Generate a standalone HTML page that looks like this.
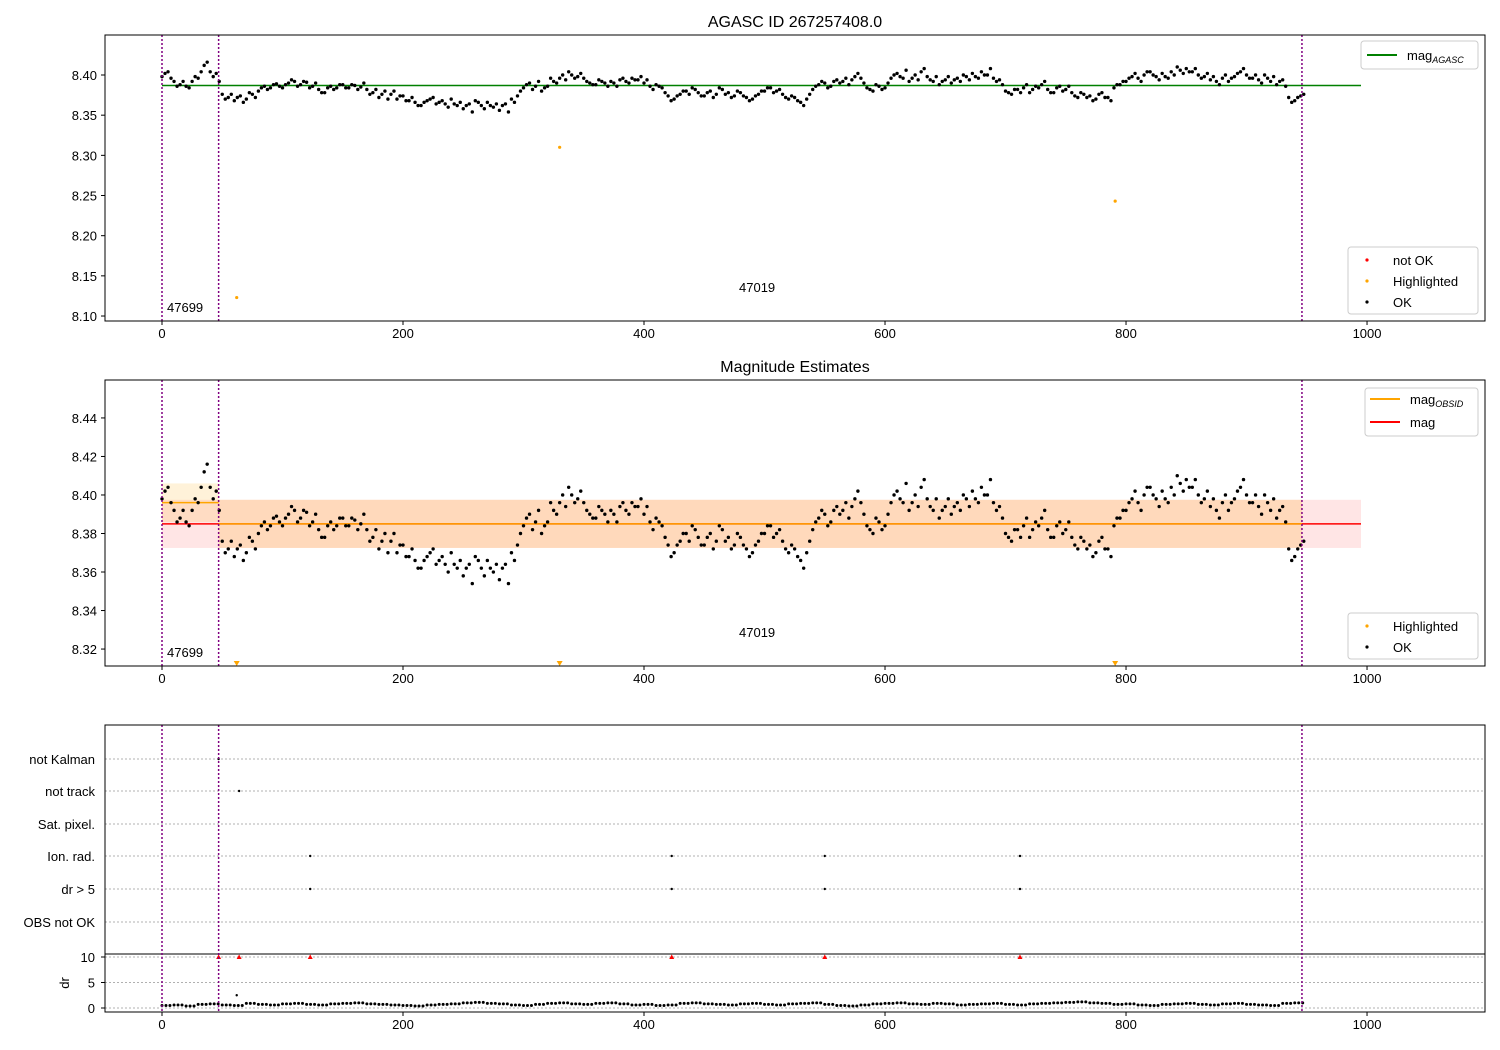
<!DOCTYPE html>
<html><head><meta charset="utf-8">
<style>
body{margin:0;background:#fff;}
svg{display:block;font-family:"Liberation Sans","DejaVu Sans",sans-serif;}
</style></head>
<body>
<svg id="chart" width="1500" height="1050" viewBox="0 0 1500 1050"></svg>
<script>
const magX0 = 0, magStep = 5;
const magValues = [8.398,8.404,8.392,8.388,8.386,8.392,8.396,8.412,8.404,8.402,
8.376,8.372,8.368,8.374,8.370,8.376,8.380,8.386,8.384,8.389,
8.384,8.390,8.392,8.388,8.391,8.386,8.382,8.378,8.386,8.384,
8.388,8.384,8.387,8.385,8.382,8.378,8.372,8.380,8.376,8.370,
8.374,8.368,8.366,8.362,8.368,8.372,8.366,8.364,8.370,8.362,
8.358,8.364,8.368,8.362,8.366,8.360,8.356,8.364,8.370,8.374,
8.384,8.390,8.386,8.380,8.386,8.392,8.396,8.394,8.400,8.398,
8.396,8.390,8.388,8.392,8.386,8.390,8.394,8.392,8.396,8.394,
8.390,8.386,8.388,8.384,8.374,8.370,8.376,8.380,8.384,8.378,
8.374,8.380,8.376,8.382,8.378,8.374,8.378,8.372,8.370,8.376,
8.380,8.384,8.380,8.376,8.370,8.372,8.366,8.370,8.382,8.388,
8.390,8.386,8.394,8.392,8.388,8.398,8.396,8.384,8.380,8.386,
8.384,8.396,8.402,8.396,8.392,8.400,8.404,8.398,8.392,8.388,
8.394,8.390,8.396,8.400,8.394,8.398,8.404,8.400,8.396,8.394,
8.380,8.376,8.382,8.384,8.378,8.386,8.388,8.382,8.378,8.386,
8.382,8.378,8.372,8.376,8.374,8.370,8.378,8.372,8.384,8.388,
8.392,8.398,8.396,8.400,8.404,8.398,8.402,8.396,8.400,8.406,
8.408,8.404,8.400,8.398,8.394,8.392,8.396,8.392,8.398,8.404,
8.400,8.396,8.394,8.400,8.392,8.388,8.394,8.372,8.368,8.374];
const magX0B = 2.5;
const magValuesB = [8.402,8.396,8.386,8.392,8.384,8.398,8.404,8.416,8.398,8.392,
8.370,8.376,8.372,8.366,8.378,8.372,8.384,8.382,8.388,8.386,
8.388,8.394,8.386,8.392,8.384,8.390,8.378,8.384,8.382,8.388,
8.384,8.388,8.382,8.390,8.376,8.382,8.376,8.370,8.380,8.374,
8.368,8.372,8.362,8.366,8.370,8.364,8.368,8.360,8.364,8.366,
8.362,8.354,8.366,8.358,8.362,8.364,8.362,8.354,8.366,8.380,
8.388,8.382,8.392,8.384,8.396,8.390,8.400,8.404,8.396,8.402,
8.392,8.388,8.394,8.390,8.392,8.386,8.396,8.390,8.394,8.398,
8.394,8.382,8.386,8.378,8.368,8.374,8.380,8.376,8.382,8.374,
8.378,8.372,8.384,8.376,8.372,8.380,8.374,8.368,8.374,8.380,
8.384,8.378,8.382,8.372,8.374,8.368,8.362,8.376,8.386,8.392,
8.384,8.392,8.390,8.396,8.394,8.402,8.390,8.382,8.388,8.382,
8.390,8.400,8.398,8.406,8.396,8.394,8.408,8.394,8.398,8.392,
8.398,8.394,8.392,8.398,8.402,8.396,8.400,8.408,8.392,8.388,
8.378,8.382,8.378,8.388,8.382,8.384,8.392,8.378,8.384,8.380,
8.386,8.374,8.378,8.372,8.368,8.376,8.372,8.368,8.388,8.392,
8.396,8.402,8.392,8.404,8.400,8.394,8.398,8.404,8.410,8.402,
8.404,8.408,8.396,8.402,8.398,8.388,8.400,8.396,8.402,8.408,
8.396,8.400,8.390,8.396,8.398,8.392,8.386,8.366,8.372,8.376];
const highlightX = [62, 330, 791];
const highlightMag = [8.123, 8.310, 8.243];
const magAgasc = 8.387;
const magMean = 8.385, magStd = 0.0125;
const obsid1Mean = 8.396, obsid1Std = 0.010;
const obsBounds = [0, 47, 946];
const obsLabels = ["47699", "47019"];
const flagCats = ["not Kalman","not track","Sat. pixel.","Ion. rad.","dr > 5","OBS not OK"];
const flagNotKalmanX = [47];
const flagNotTrackX = [64];
const flagIonX = [123, 423, 550, 712];
const flagDrX = [123, 423, 550, 712];
const drX0 = 0, drStep = 10;
const drValues = [0.5,0.6,0.4,0.7,0.8,0.6,0.5,0.9,0.7,0.6,0.8,0.9,0.7,0.6,0.8,0.9,1.0,0.8,0.7,0.6,
0.5,0.4,0.6,0.7,0.8,1.0,1.1,0.9,0.8,0.6,0.5,0.7,0.9,1.0,0.8,0.7,0.9,1.0,0.8,0.6,
0.7,0.5,0.6,0.9,1.0,0.8,0.7,0.6,0.8,0.9,0.7,0.6,0.8,0.9,1.0,0.7,0.5,0.4,0.6,0.8,
0.9,1.0,0.8,0.7,0.9,0.8,0.6,0.7,0.8,0.9,0.7,0.6,0.8,0.9,1.0,1.1,1.2,1.0,0.9,0.7,
0.8,0.6,0.5,0.7,0.8,0.9,0.7,0.6,0.8,0.9,0.7,0.6,0.5,0.9,1.0];
const drHiX = [47, 64, 123, 423, 550, 712];
const xTicks = [0,200,400,600,800,1000];
const y1Ticks = [8.10,8.15,8.20,8.25,8.30,8.35,8.40];
const y2Ticks = [8.32,8.34,8.36,8.38,8.40,8.42,8.44];
const drTicks = [0,5,10];

const NS="http://www.w3.org/2000/svg";
const svg=document.getElementById('chart');
function mk(tag,attrs,parent,text){const e=document.createElementNS(NS,tag);for(const k in attrs)e.setAttribute(k,attrs[k]);if(text!==undefined)e.textContent=text;(parent||svg).appendChild(e);return e;}
const L=105,R=1485;
const xmin=-47.3,xmax=1097.9;
const sx=v=>L+(v-xmin)/(xmax-xmin)*(R-L);
function yScale(top,bot,vmin,vmax){return v=>bot-(v-vmin)/(vmax-vmin)*(bot-top);}
const P1={top:35,bot:321,y:yScale(35,321,8.0938,8.4498)};
const P2={top:380,bot:666,y:yScale(380,666,8.3112,8.4597)};
const P3={top:725,bot:1012};
const catY=[759,791,824,856,889,922];
const dry=v=>1008-v*5.1;

function xAxis(bot,name){
  const g=mk('g',{});
  xTicks.forEach(t=>{const x=sx(t);mk('line',{x1:x,x2:x,y1:bot,y2:bot+4,stroke:'#000'},g);mk('text',{x:x,y:bot+17,'font-size':13,'text-anchor':'middle'},g,String(t));});
}
function frame(top,bot,name){const r=mk('rect',{x:L,y:top,width:R-L,height:bot-top,fill:'none',stroke:'#000','stroke-width':1});}
function vlines(top,bot){obsBounds.forEach(b=>{const l=mk('line',{x1:sx(b),x2:sx(b),y1:top,y2:bot,stroke:'#800080','stroke-width':1.5,'stroke-dasharray':'2,2'});});}
function clip(id,top,bot){const c=mk('clipPath',{id:id});mk('rect',{x:L,y:top,width:R-L,height:bot-top},c);}
clip('c1',P1.top,P1.bot);clip('c2',P2.top,P2.bot);clip('c3',P3.top,P3.bot);
function plotMag(g,ys){
  [[magX0,magValues],[magX0B,magValuesB]].forEach(s=>{
    s[1].forEach((v,i)=>{const c=mk('circle',{cx:sx(s[0]+i*magStep),cy:ys(v),r:1.7,fill:'#000'},g);
      
      });
  });
}

// Panel 1
mk('text',{x:795,y:27,'font-size':16,'text-anchor':'middle'},svg,'AGASC ID 267257408.0');
const g1=mk('g',{'clip-path':'url(#c1)'});
mk('line',{x1:sx(0),x2:sx(995),y1:P1.y(magAgasc),y2:P1.y(magAgasc),stroke:'#008000','stroke-width':1.5},g1);
plotMag(g1,P1.y);
highlightX.forEach((x,i)=>{const c=mk('circle',{cx:sx(x),cy:P1.y(highlightMag[i]),r:1.6,fill:'orange'},g1);});
vlines(P1.top,P1.bot);
mk('text',{x:167,y:312,'font-size':13},svg,obsLabels[0]);
mk('text',{x:739,y:292,'font-size':13},svg,obsLabels[1]);
y1Ticks.forEach(t=>{const y=P1.y(t);mk('line',{x1:L-4,x2:L,y1:y,y2:y,stroke:'#000'});mk('text',{x:L-8,y:y+5,'font-size':13,'text-anchor':'end'},svg,t.toFixed(2));});
frame(P1.top,P1.bot,'panel-1-frame');xAxis(P1.bot,'x-axis-1');
let lg=mk('g',{});
mk('rect',{x:1361,y:41,width:117,height:28,fill:'#fff',stroke:'#ccc',rx:3},lg);
mk('line',{x1:1367,x2:1397,y1:55,y2:55,stroke:'#008000','stroke-width':2},lg);
let t=mk('text',{x:1407,y:60,'font-size':13},lg,'mag');mk('tspan',{'font-size':9,'font-style':'italic',dy:3},t,'AGASC');
lg=mk('g',{});
mk('rect',{x:1348,y:247,width:130,height:67,fill:'#fff',stroke:'#ccc',rx:3},lg);
[['red','not OK',260],['orange','Highlighted',281],['#000','OK',302]].forEach(a=>{mk('circle',{cx:1367,cy:a[2],r:1.6,fill:a[0]},lg);mk('text',{x:1393,y:a[2]+5,'font-size':13},lg,a[1]);});

// Panel 2
mk('text',{x:795,y:372,'font-size':16,'text-anchor':'middle'},svg,'Magnitude Estimates');
const g2=mk('g',{'clip-path':'url(#c2)'});
mk('rect',{x:sx(0),y:P2.y(magMean+magStd),width:sx(995)-sx(0),height:P2.y(magMean-magStd)-P2.y(magMean+magStd),fill:'rgba(255,0,0,0.1)'},g2);
mk('rect',{x:sx(obsBounds[1]),y:P2.y(magMean+magStd),width:sx(obsBounds[2])-sx(obsBounds[1]),height:P2.y(magMean-magStd)-P2.y(magMean+magStd),fill:'rgba(255,165,0,0.18)'},g2);
mk('rect',{x:sx(obsBounds[0]),y:P2.y(obsid1Mean+obsid1Std),width:sx(obsBounds[1])-sx(obsBounds[0]),height:P2.y(obsid1Mean-obsid1Std)-P2.y(obsid1Mean+obsid1Std),fill:'rgba(255,165,0,0.15)'},g2);
mk('line',{x1:sx(0),x2:sx(995),y1:P2.y(magMean),y2:P2.y(magMean),stroke:'red','stroke-width':1.5},g2);
mk('line',{x1:sx(obsBounds[1]),x2:sx(obsBounds[2]),y1:P2.y(magMean),y2:P2.y(magMean),stroke:'orange','stroke-width':1.5},g2);
mk('line',{x1:sx(obsBounds[0]),x2:sx(obsBounds[1]),y1:P2.y(obsid1Mean),y2:P2.y(obsid1Mean),stroke:'orange','stroke-width':1.5},g2);
plotMag(g2,P2.y);
highlightX.forEach(x=>{const X=sx(x);const p=mk('path',{d:`M${X-3},${661} L${X+3},${661} L${X},${666} Z`,fill:'orange'});});
vlines(P2.top,P2.bot);
mk('text',{x:167,y:657,'font-size':13},svg,obsLabels[0]);
mk('text',{x:739,y:637,'font-size':13},svg,obsLabels[1]);
y2Ticks.forEach(t=>{const y=P2.y(t);mk('line',{x1:L-4,x2:L,y1:y,y2:y,stroke:'#000'});mk('text',{x:L-8,y:y+5,'font-size':13,'text-anchor':'end'},svg,t.toFixed(2));});
frame(P2.top,P2.bot,'panel-2-frame');xAxis(P2.bot,'x-axis-2');
lg=mk('g',{});
mk('rect',{x:1365,y:388,width:113,height:48,fill:'#fff',stroke:'#ccc',rx:3},lg);
mk('line',{x1:1370,x2:1400,y1:399,y2:399,stroke:'orange','stroke-width':2},lg);
t=mk('text',{x:1410,y:404,'font-size':13},lg,'mag');mk('tspan',{'font-size':9,'font-style':'italic',dy:3},t,'OBSID');
mk('line',{x1:1370,x2:1400,y1:422,y2:422,stroke:'red','stroke-width':2},lg);
mk('text',{x:1410,y:427,'font-size':13},lg,'mag');
lg=mk('g',{});
mk('rect',{x:1348,y:613,width:130,height:46,fill:'#fff',stroke:'#ccc',rx:3},lg);
[['orange','Highlighted',626],['#000','OK',647]].forEach(a=>{mk('circle',{cx:1367,cy:a[2],r:1.6,fill:a[0]},lg);mk('text',{x:1393,y:a[2]+5,'font-size':13},lg,a[1]);});

// Panel 3
const g3=mk('g',{'clip-path':'url(#c3)'});
flagCats.forEach((c,i)=>{mk('line',{x1:L,x2:R,y1:catY[i],y2:catY[i],stroke:'#b0b0b0','stroke-dasharray':'2,2'},g3);const tx=mk('text',{x:L-10,y:catY[i]+5,'font-size':13,'text-anchor':'end'},svg,c);});
mk('line',{x1:L,x2:R,y1:954,y2:954,stroke:'#000'});
function flagDots(xs,row){xs.forEach(x=>{const c=mk('circle',{cx:sx(x),cy:catY[row],r:1.2,fill:'#000'},g3);});}
flagDots(flagNotKalmanX,0);flagDots(flagNotTrackX,1);flagDots(flagIonX,3);flagDots(flagDrX,4);
drTicks.forEach(t=>{const y=dry(t);mk('line',{x1:L,x2:R,y1:y,y2:y,stroke:'#b0b0b0','stroke-dasharray':'2,2'},g3);mk('line',{x1:L-4,x2:L,y1:y,y2:y,stroke:'#000'});mk('text',{x:L-10,y:y+5,'font-size':13,'text-anchor':'end'},svg,String(t));});
mk('text',{x:0,y:0,'font-size':13,'text-anchor':'middle',transform:'translate(69,983) rotate(-90)'},svg,'dr');
drValues.forEach((v,i)=>{const x=drX0+i*drStep;for(let k=0;k<3;k++){const c=mk('circle',{cx:sx(x+k*3.3),cy:dry(v),r:1.5,fill:'#000'},g3);}});
mk('circle',{cx:sx(62),cy:dry(2.5),r:1.2,fill:'#000'},g3);
drHiX.forEach(x=>{const X=sx(x),Y=dry(10);const p=mk('path',{d:`M${X-2.5},${Y+2} L${X+2.5},${Y+2} L${X},${Y-2.5} Z`,fill:'red'},g3);});
vlines(P3.top,P3.bot);
frame(P3.top,P3.bot,'panel-3-frame');xAxis(P3.bot,'x-axis-3');
</script>
</body></html>
